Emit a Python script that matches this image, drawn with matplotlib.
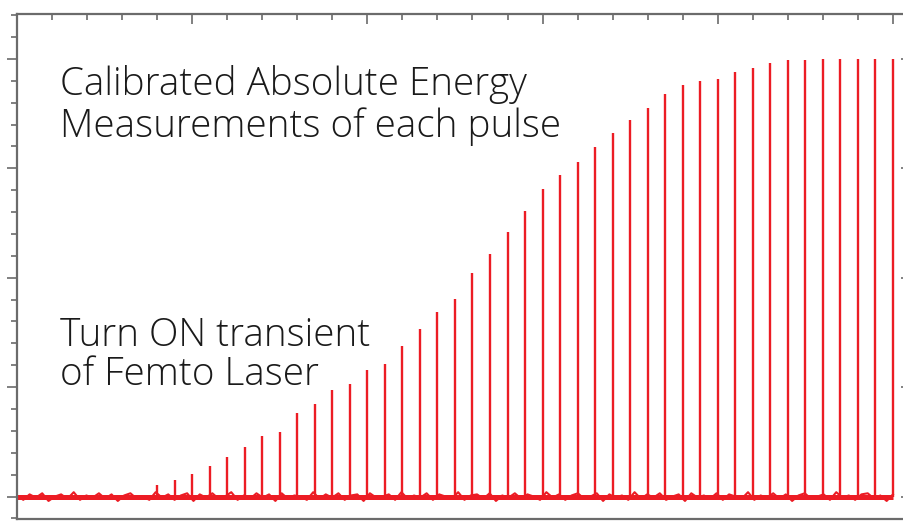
import numpy as np
import matplotlib.pyplot as plt
from matplotlib.ticker import MultipleLocator

# pulse positions (time, arbitrary units) and calibrated pulse energies
pulse_x = [0.8, 0.9, 1.0, 1.1, 1.2, 1.3, 1.4, 1.5, 1.6, 1.7, 1.8,
           1.9, 2.0, 2.1, 2.2, 2.3, 2.4, 2.5, 2.6, 2.7, 2.8, 2.9,
           3.0, 3.1, 3.2, 3.3, 3.4, 3.5, 3.6, 3.7, 3.8, 3.9, 4.0,
           4.1, 4.2, 4.3, 4.4, 4.5, 4.6, 4.7, 4.8, 4.9, 5.0]
pulse_h = [0.11, 0.15, 0.21, 0.28, 0.36, 0.45, 0.55, 0.59, 0.76, 0.85, 0.97,
           1.03, 1.16, 1.21, 1.38, 1.53, 1.69, 1.81, 2.04, 2.22, 2.42, 2.61,
           2.81, 2.94, 3.06, 3.19, 3.32, 3.44, 3.55, 3.68, 3.76, 3.80, 3.82,
           3.88, 3.92, 3.96, 3.99, 3.99, 4.00, 4.00, 4.00, 4.00, 4.00]

# baseline detector noise
noise = [0.01, -0.03, 0.02, -0.01, 0.03, -0.04, 0.00, 0.02, -0.02, 0.04,
         -0.03, 0.01, -0.01, 0.03, -0.02, 0.02, -0.04, 0.01, 0.03, -0.02,
         0.00, -0.03, 0.04, -0.01, 0.02, -0.03, 0.01, 0.03, -0.04, 0.02,
         -0.01, 0.03, -0.02, 0.00, 0.04, -0.03, 0.01, -0.02, 0.03, -0.01,
         0.02, -0.04, 0.03, -0.02, 0.01, 0.00, -0.03, 0.04, -0.02, 0.02,
         -0.01, 0.03, -0.03, 0.01, 0.02, -0.04, 0.03, -0.01, 0.00, 0.02,
         -0.03, 0.04, -0.02, 0.01, -0.01, 0.03, -0.03, 0.02, 0.00, -0.02,
         0.04, -0.03, 0.01, 0.02, -0.02, 0.03, -0.04, 0.01, -0.01, 0.03,
         -0.02, 0.02, 0.00, -0.03, 0.04, -0.01, 0.02, -0.03, 0.01, 0.03,
         -0.02, 0.00, 0.03, -0.04, 0.02, -0.01, 0.01, -0.03, 0.04, -0.02,
         0.02, -0.01, 0.03, -0.03, 0.00, 0.02, -0.04, 0.03, -0.01, 0.01,
         -0.02, 0.03, -0.03, 0.02, 0.00, -0.02, 0.04, -0.03, 0.01, -0.01,
         0.03, -0.02, 0.02, -0.04, 0.01, 0.03, -0.02, 0.00, 0.02, -0.03,
         0.04, -0.01, 0.01, -0.03, 0.02, 0.03, -0.02, 0.01, -0.04, 0.02]

red = '#ec1c24'
frame = '#6b6b6b'

fig = plt.figure(figsize=(9.04, 5.22), dpi=100)
ax = fig.add_axes([17 / 904, 3 / 522, 894 / 904, 505 / 522])

# baseline band + noise, then the pulses
noise_x = np.linspace(0, 5.0, len(noise))
ax.plot([0, 5.0], [0, 0], color=red, lw=3.6, solid_capstyle='butt')
ax.plot(noise_x, noise, color=red, lw=1.5)
ax.vlines(pulse_x, 0, pulse_h, color=red, lw=1.7)

ax.set_xlim(0, 5.103)
ax.set_ylim(-0.205, 4.41)

for s in ax.spines.values():
    s.set_color(frame)
    s.set_linewidth(1.6)

ax.xaxis.set_major_locator(MultipleLocator(1))
ax.xaxis.set_minor_locator(MultipleLocator(0.2))
ax.yaxis.set_major_locator(MultipleLocator(1))
ax.yaxis.set_minor_locator(MultipleLocator(0.2))

ax.tick_params(axis='x', which='both', top=True, bottom=False, direction='in',
               labeltop=False, labelbottom=False, color=frame, width=1.2)
ax.tick_params(axis='y', which='both', left=True, right=False, direction='out',
               labelleft=False, color=frame, width=1.2)
ax.tick_params(which='major', length=7)
ax.tick_params(which='minor', length=4)

# right side ticks point inward
ax2 = ax.twinx()
ax2.set_ylim(ax.get_ylim())
ax2.yaxis.set_major_locator(MultipleLocator(1))
ax2.yaxis.set_minor_locator(MultipleLocator(0.2))
ax2.tick_params(axis='y', which='both', direction='in', labelright=False,
                color=frame, width=1.2)
ax2.tick_params(which='major', length=7)
ax2.tick_params(which='minor', length=4)
for s in ax2.spines.values():
    s.set_visible(False)

txt = dict(fontsize=27.8, fontweight='light', color='#1a1a1a',
           family=['Open Sans', 'DejaVu Sans'], va='baseline', ha='left')
fig.text(60 / 904, 1 - 95 / 522, 'Calibrated Absolute Energy', **txt)
fig.text(60 / 904, 1 - 137 / 522, 'Measurements of each pulse', **txt)
fig.text(60 / 904, 1 - 346 / 522, 'Turn ON transient', **txt)
fig.text(60 / 904, 1 - 385 / 522, 'of Femto Laser', **txt)

fig.savefig('out.png', dpi=100)
